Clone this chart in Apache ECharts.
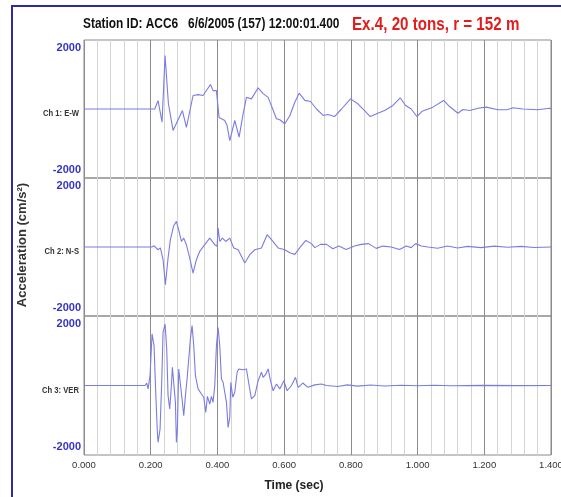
<!DOCTYPE html>
<html>
<head>
<meta charset="UTF-8">
<script src="https://cdn.jsdelivr.net/npm/echarts@6/dist/echarts.min.js"></script>
<style>
  html, body { margin: 0; padding: 0; background: #fff; }
  #chart { width: 561px; height: 497px; }
</style>
</head>
<body>
<div id="chart"></div>
<script>
// Ch 1: E-W
var ewTime = [0, 0.212, 0.222, 0.234, 0.243, 0.253, 0.267, 0.295, 0.307, 0.327, 0.342, 0.357, 0.379, 0.387, 0.397, 0.405, 0.422, 0.429, 0.437, 0.452, 0.465, 0.477, 0.487, 0.502, 0.522, 0.537, 0.552, 0.577, 0.587, 0.602, 0.617, 0.632, 0.645, 0.662, 0.679, 0.697, 0.717, 0.731, 0.751, 0.772, 0.799, 0.821, 0.841, 0.858, 0.881, 0.901, 0.926, 0.948, 0.964, 0.981, 0.998, 1.014, 1.046, 1.078, 1.096, 1.121, 1.136, 1.156, 1.181, 1.206, 1.241, 1.268, 1.286, 1.316, 1.361, 1.395, 1.4];
var ewAccel = [0, 0, 270, -430, 1740, 180, -700, -50, -600, 440, 470, 440, 800, 600, 600, -280, -375, -540, -1030, -375, -920, -160, 380, 330, 690, 500, 380, -320, -350, -480, -220, 220, 515, 280, 245, 0, -210, -180, -245, 0, 330, 170, -50, -245, -140, -50, 115, 365, 115, 0, -245, -70, 60, 280, 80, -140, -15, -50, 25, 60, -25, -25, 40, 0, -25, 25, 0];

// Ch 2: N-S
var nsTime = [0, 0.203, 0.210, 0.222, 0.229, 0.237, 0.244, 0.252, 0.259, 0.269, 0.277, 0.285, 0.292, 0.299, 0.307, 0.317, 0.327, 0.337, 0.347, 0.362, 0.377, 0.392, 0.399, 0.402, 0.407, 0.415, 0.425, 0.437, 0.449, 0.462, 0.482, 0.497, 0.512, 0.532, 0.549, 0.562, 0.582, 0.602, 0.617, 0.632, 0.647, 0.665, 0.682, 0.692, 0.709, 0.727, 0.746, 0.764, 0.786, 0.811, 0.831, 0.853, 0.876, 0.896, 0.921, 0.946, 0.966, 0.981, 0.994, 1.011, 1.031, 1.06, 1.09, 1.12, 1.15, 1.19, 1.23, 1.27, 1.31, 1.35, 1.4];
var nsAccel = [0, 0, 40, -90, -30, -410, -1230, -360, 240, 695, 835, 510, 180, 290, 75, -360, -850, -415, -140, 75, 290, 75, 20, 620, 180, 290, 180, 290, -30, -90, -520, -250, -90, -30, 400, 240, -30, -90, -185, -240, -20, 215, 110, -20, 85, 85, -55, 30, -80, 30, 85, 110, -45, 30, 0, -80, 30, -20, 110, 30, 0, -40, 30, -30, 20, -20, 30, -10, 20, -15, 0];

// Ch 3: VER
var verTime = [0, 0.183, 0.188, 0.192, 0.198, 0.204, 0.210, 0.215, 0.220, 0.222, 0.228, 0.233, 0.237, 0.243, 0.248, 0.252, 0.257, 0.262, 0.265, 0.269, 0.274, 0.277, 0.280, 0.284, 0.289, 0.294, 0.299, 0.304, 0.309, 0.314, 0.319, 0.324, 0.329, 0.334, 0.342, 0.352, 0.359, 0.365, 0.370, 0.377, 0.382, 0.387, 0.392, 0.397, 0.402, 0.407, 0.412, 0.417, 0.422, 0.427, 0.432, 0.437, 0.440, 0.446, 0.452, 0.459, 0.464, 0.477, 0.487, 0.495, 0.502, 0.512, 0.522, 0.532, 0.537, 0.545, 0.552, 0.559, 0.567, 0.577, 0.587, 0.599, 0.609, 0.622, 0.634, 0.642, 0.656, 0.671, 0.692, 0.712, 0.727, 0.76, 0.79, 0.82, 0.86, 0.90, 0.95, 1.0, 1.05, 1.1, 1.2, 1.3, 1.4];
var verAccel = [0, 0, 80, -110, 320, 1670, 1290, -220, -1520, -1840, -1410, 105, 1720, 1990, 1180, -330, -760, 0, 590, 535, -545, -1840, -1410, 535, 480, -435, -980, -330, 210, 265, 1510, 1940, 1290, 320, -110, -275, -380, -870, -350, -600, -350, -545, 0, 1290, 1880, 1290, 210, 105, 155, -545, -1355, -1030, 100, -380, -220, 430, 535, 510, 535, 0, -435, -330, 155, 430, 265, 370, 535, 155, -170, 50, -110, 155, -170, 0, 265, -60, 80, -60, 20, 50, 0, -30, 20, -20, 15, -15, 10, -10, 10, -10, 5, -5, 0];

var channelNames = ['Ch 1: E-W', 'Ch 2: N-S', 'Ch 3: VER'];
var timeLabels = ['0.000', '0.200', '0.400', '0.600', '0.800', '1.000', '1.200', '1.400'];
var yLabels = ['-2000', '2000'];

function pairs(t, a) {
    var out = [];
    for (var i = 0; i < t.length; i++) out.push([t[i], a[i]]);
    return out;
}

var font = '"Liberation Sans", Arial, sans-serif';
var waveColor = '#7b7be4';
var panelTop = [40, 178, 316];
var panelH = [138, 138, 139];
var channels = [pairs(ewTime, ewAccel), pairs(nsTime, nsAccel), pairs(verTime, verAccel)];

var grids = [], xAxes = [], yAxes = [], series = [], graphics = [];
for (var i = 0; i < 3; i++) {
    grids.push({
        left: 84, top: panelTop[i], width: 467, height: panelH[i],
        outerBoundsMode: 'none', containLabel: false,
        show: true, borderColor: '#8a8a8a', borderWidth: 1, backgroundColor: 'transparent'
    });
    // minor vertical lines
    xAxes.push({
        gridIndex: i, type: 'value', position: 'bottom', min: 0, max: 1.4, interval: 0.04,
        axisLine: { show: false }, axisTick: { show: false }, axisLabel: { show: false },
        splitLine: { show: true, lineStyle: { color: '#d4d4d4', width: 1 } }
    });
    // major vertical lines + labels
    xAxes.push({
        gridIndex: i, type: 'value', position: 'bottom', min: 0, max: 1.4, interval: 0.2,
        axisLine: { show: false }, axisTick: { show: false },
        axisLabel: {
            show: i === 2, margin: 5, color: '#333', fontSize: 9.5, fontFamily: font,
            formatter: function (v) { return timeLabels[Math.round(v / 0.2)]; }
        },
        splitLine: { show: true, lineStyle: { color: '#8c8c8c', width: 1 } }
    });
    yAxes.push({
        gridIndex: i, type: 'value', min: -2250, max: 2250, interval: 250,
        axisLine: { show: false }, axisTick: { show: false }, splitLine: { show: false },
        axisLabel: {
            margin: 3, color: '#3434c8', fontSize: 11, fontWeight: 'bold', fontFamily: font,
            formatter: function (v) {
                if (v === 2000) return yLabels[1];
                if (v === -2000) return yLabels[0];
                return '';
            }
        }
    });
    series.push({
        type: 'line', xAxisIndex: 2 * i + 1, yAxisIndex: i,
        data: channels[i], showSymbol: false, symbol: 'none',
        lineStyle: { color: waveColor, width: 1.1 }, silent: true
    });
    graphics.push({
        type: 'text', x: 79, y: panelTop[i] + panelH[i] / 2 + 5, scaleX: 0.85,
        style: { text: channelNames[i], fill: '#333', font: 'bold 9px ' + font, align: 'right', verticalAlign: 'middle' }
    });
}

graphics.push(
    { type: 'rect', shape: { x: 12, y: 6, width: 600, height: 600 },
      style: { fill: 'none', stroke: '#2b2ba6', lineWidth: 2 } },
    { type: 'text', x: 83, y: 24, scaleX: 0.82,
      style: { text: 'Station ID: ACC6   6/6/2005 (157) 12:00:01.400', fill: '#111', font: 'bold 14.5px ' + font, verticalAlign: 'middle' } },
    { type: 'text', x: 352, y: 25, scaleX: 0.82,
      style: { text: 'Ex.4, 20 tons, r = 152 m', fill: '#e21d1d', font: 'bold 18.5px ' + font, verticalAlign: 'middle' } },
    { type: 'text', x: 22, y: 245, rotation: Math.PI / 2,
      style: { text: 'Acceleration (cm/s²)', fill: '#333', font: 'bold 13px ' + font, align: 'center', verticalAlign: 'middle' } },
    { type: 'text', x: 294, y: 486,
      style: { text: 'Time (sec)', fill: '#222', font: 'bold 12px ' + font, align: 'center', verticalAlign: 'middle' } }
);

var chart = echarts.init(document.getElementById('chart'), null, { renderer: 'canvas' });
chart.setOption({
    animation: false,
    backgroundColor: '#fff',
    grid: grids,
    xAxis: xAxes,
    yAxis: yAxes,
    series: series,
    graphic: graphics
});
</script>
</body>
</html>
